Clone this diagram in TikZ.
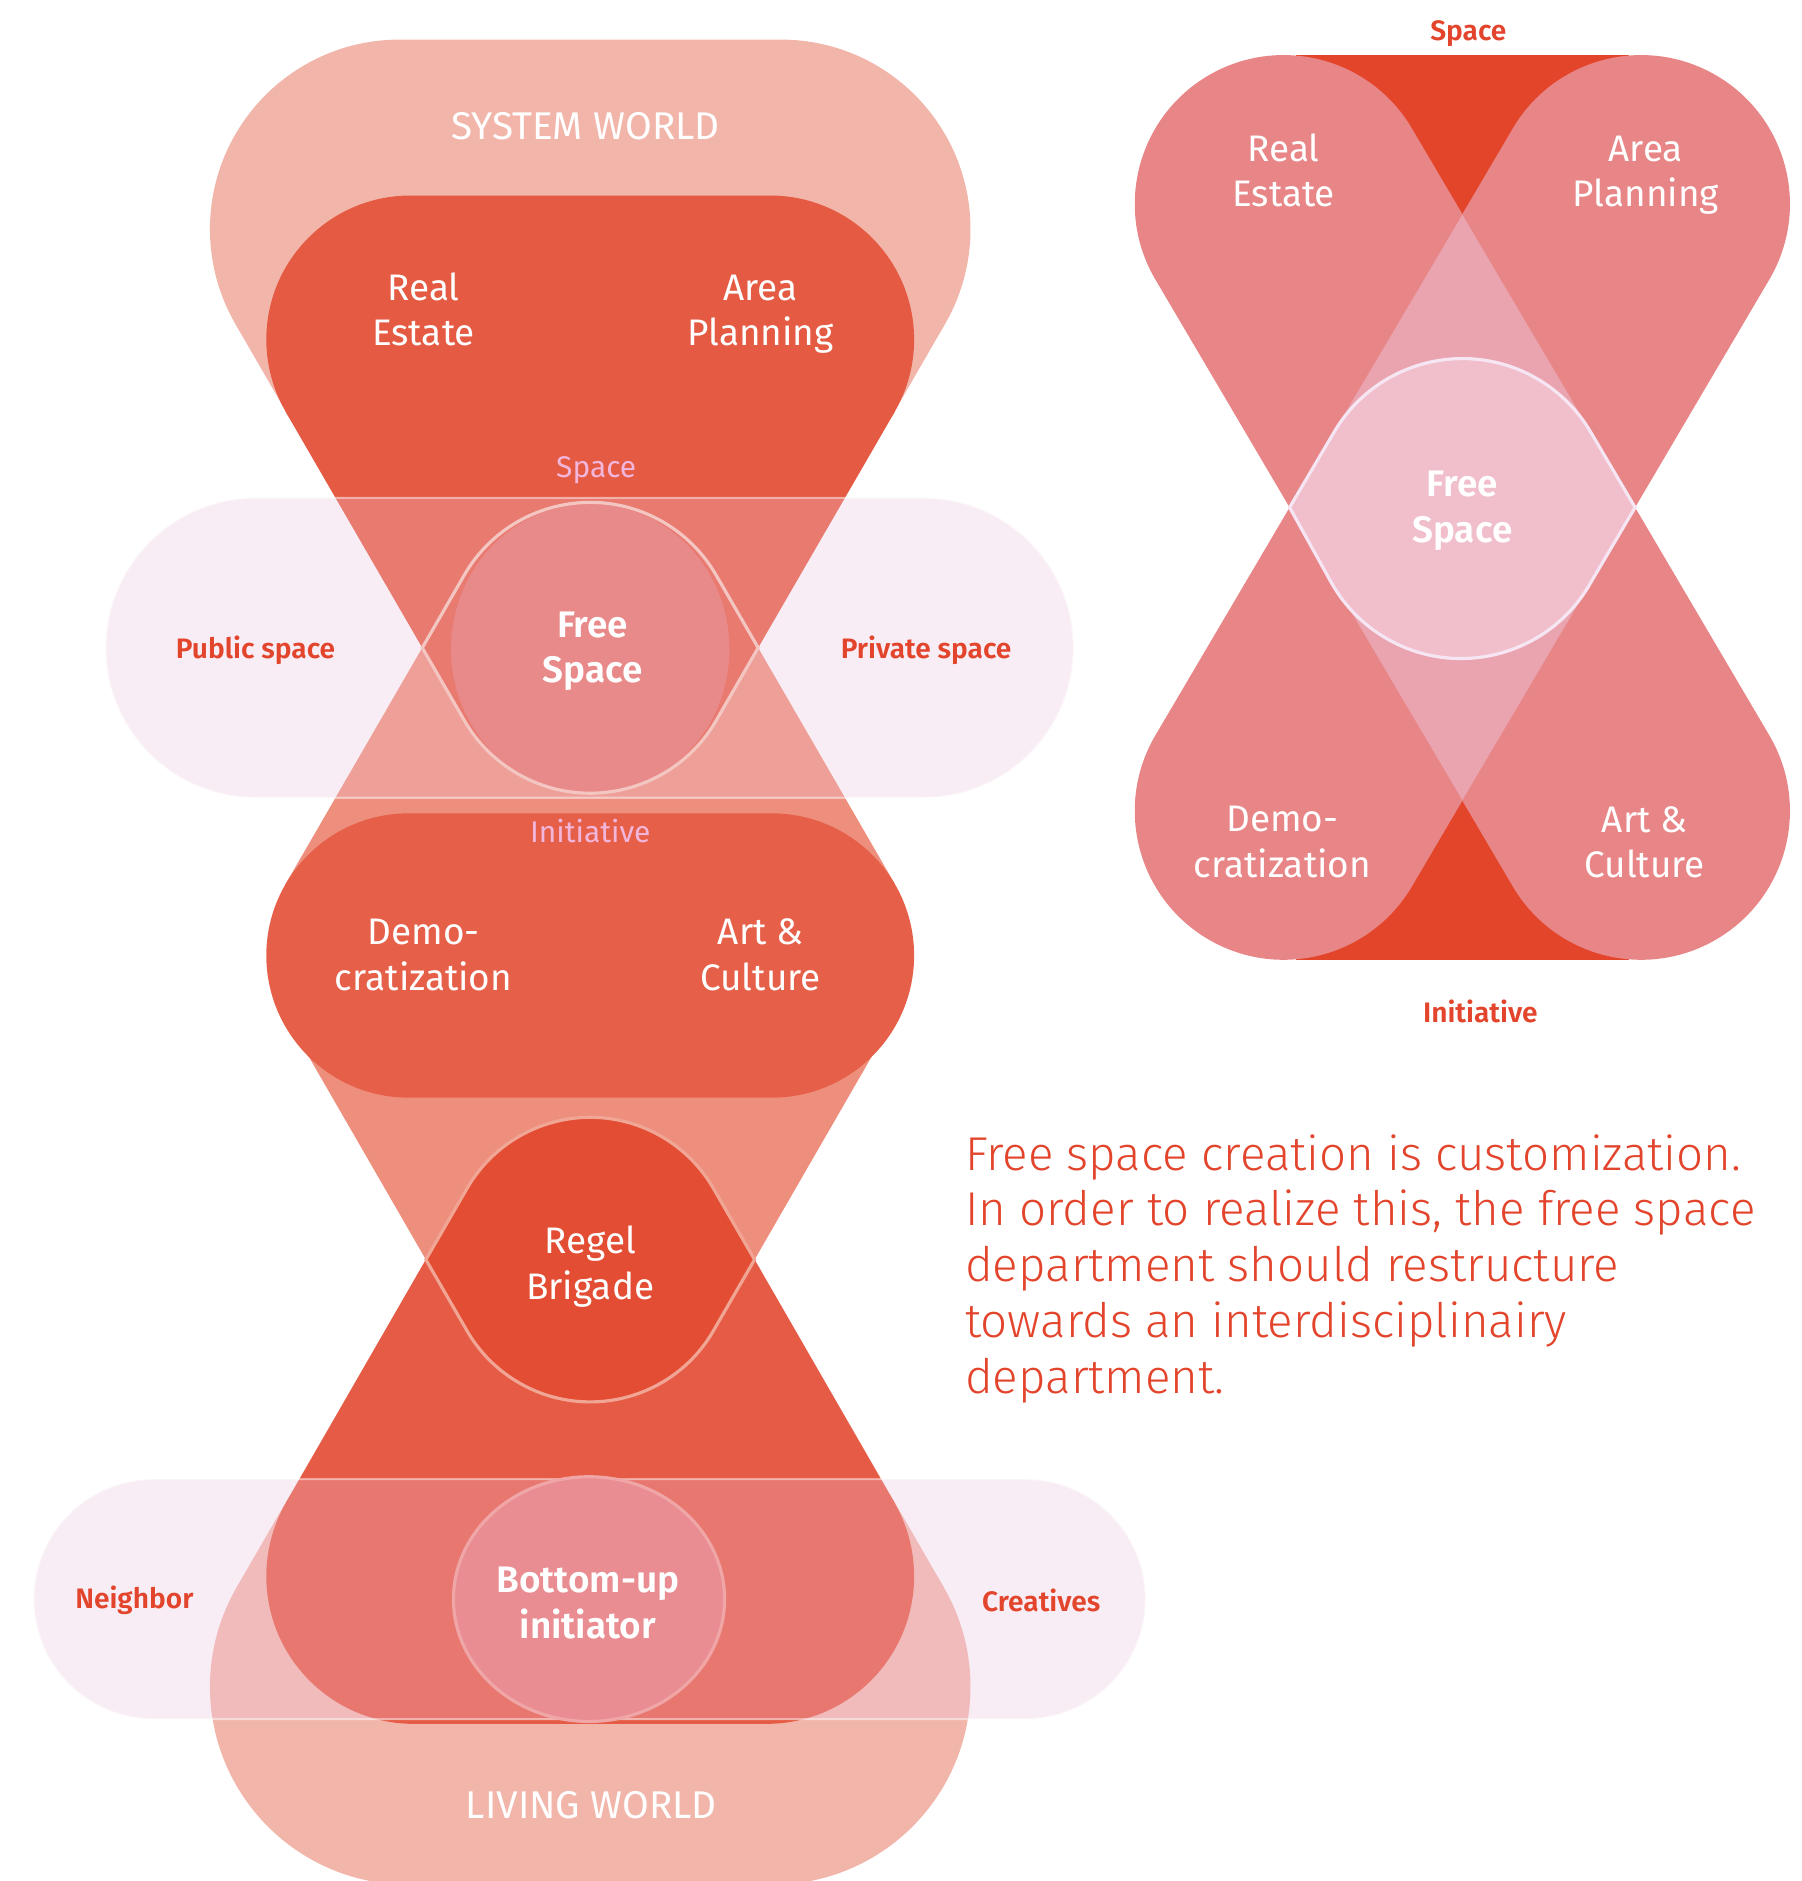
\documentclass[tikz,border=0pt]{standalone}
\usepackage{fontspec}
\setmainfont{Fira Sans}[BoldFont={Fira Sans SemiBold}]
\newfontfamily\lightfont{Fira Sans Light}
\usepackage{tikz}
\definecolor{worldsalmon}{HTML}{F2B5AA}
\definecolor{topred}{HTML}{E55A43}
\definecolor{midsalmon}{HTML}{EE8F7E}
\definecolor{pillred}{HTML}{E66049}
\definecolor{lowred}{HTML}{E65B45}
\definecolor{bandpink}{HTML}{F8EDF4}
\definecolor{bandred}{HTML}{E97A70}
\definecolor{bandsalmon}{HTML}{EE9F98}
\definecolor{bandworld}{HTML}{F0BBBA}
\definecolor{bandlow}{HTML}{E8786F}
\definecolor{freefill}{HTML}{E98A8A}
\definecolor{regelfill}{HTML}{E34D33}
\definecolor{bottomfill}{HTML}{E98D92}
\definecolor{lensline}{HTML}{F4C6C2}
\definecolor{regelrim}{HTML}{F0A595}
\definecolor{bottomrim}{HTML}{F0A6A6}
\definecolor{labelred}{HTML}{E2442C}
\definecolor{softlabel}{HTML}{F2B6DA}
\definecolor{lobepink}{HTML}{E88587}
\definecolor{wedgered}{HTML}{E3452A}
\definecolor{diamondpink}{HTML}{EAA4B0}
\definecolor{lensfill}{HTML}{F0BFCB}
\definecolor{lensrim}{HTML}{F6E6F3}

\begin{document}
\begin{tikzpicture}[x=0.012cm, y=-0.012cm,
    lbl/.style={text=white, align=center, font=\fontsize{10.5}{13}\selectfont},
    boldlbl/.style={lbl, font=\fontsize{10.5}{13}\selectfont\bfseries},
    worldlbl/.style={text=white, font=\fontsize{11}{13}\selectfont},
    softlbl/.style={text=softlabel, font=\fontsize{8.5}{10}\selectfont},
    sidelbl/.style={text=labelred, font=\fontsize{8}{10}\selectfont\bfseries},
    rim/.style={draw=#1, line width=0.9pt},
    bandedge/.style={draw=white, draw opacity=0.45, line width=0.6pt}]
    \useasboundingbox (0,0) rectangle (1502,1568);

    % System world
    \fill[worldsalmon, rounded corners=1.896cm] (175,33) rectangle (809,349);
    \fill[worldsalmon] (333,191) -- (196.2,270) -- (352,540) -- (632,540) -- (787.8,270) -- (651,191) -- cycle;

    % Living world
    \fill[worldsalmon, rounded corners=1.98cm] (175,1241) rectangle (809,1571);
    \fill[worldsalmon] (355,1050) -- (197.1,1323.5) -- (340,1406) -- (644,1406) -- (786.9,1323.5) -- (629,1050) -- cycle;

    % Initiative hourglass
    \fill[midsalmon] (352,540) -- (238,737) -- (242.5,855) -- (355,1050) -- (629,1050) -- (741.5,855) -- (746,737) -- (632,540) -- cycle;

    % Space shape
    \fill[topred, rounded corners=1.44cm] (222,163) rectangle (762,403);
    \fill[topred] (342,283) -- (238,343) -- (352,540) -- (632,540) -- (746,343) -- (642,283) -- cycle;

    % Lower shape
    \fill[lowred, rounded corners=1.476cm] (222,1191) rectangle (762,1437);
    \fill[lowred] (355,1050) -- (238.5,1252.5) -- (345,1314) -- (639,1314) -- (745.5,1252.5) -- (629,1050) -- cycle;

    % Initiative pill
    \fill[pillred, rounded corners=1.422cm] (222,678) rectangle (762,915);

    % Band public / private
    \fill[bandpink, rounded corners=1.5cm] (88,415) rectangle (895,665);
    \begin{scope}
        \clip[rounded corners=1.5cm] (88,415) rectangle (895,665);
        \fill[bandsalmon] (352,540) -- (238,737) -- (746,737) -- (632,540) -- cycle;
        \fill[bandred] (342,283) -- (238,343) -- (352,540) -- (632,540) -- (746,343) -- (642,283) -- cycle;
        \fill[bandred] (352,540) -- (387,479.4) arc[start angle=210, end angle=330, radius=121.2]
            -- (632,540) -- (597,600.6) arc[start angle=30, end angle=150, radius=121.2] -- cycle;
    \end{scope}
    \draw[bandedge, rounded corners=1.5cm] (88,415) rectangle (895,665);

    % Band neighbor / creatives
    \fill[bandpink, rounded corners=1.2cm] (28,1233) rectangle (955,1433);
    \begin{scope}
        \clip[rounded corners=1.2cm] (28,1233) rectangle (955,1433);
        \fill[bandworld, rounded corners=1.98cm] (175,1241) rectangle (809,1571);
        \fill[bandworld] (355,1050) -- (197.1,1323.5) -- (340,1406) -- (644,1406) -- (786.9,1323.5) -- (629,1050) -- cycle;
        \fill[bandlow, rounded corners=1.476cm] (222,1191) rectangle (762,1437);
        \fill[bandlow] (355,1050) -- (238.5,1252.5) -- (345,1314) -- (639,1314) -- (745.5,1252.5) -- (629,1050) -- cycle;
    \end{scope}
    \draw[bandedge, rounded corners=1.2cm] (28,1233) rectangle (955,1433);

    % Lenses
    \fill[freefill] (492,541) ellipse[x radius=116, y radius=121];
    \draw[rim=lensline] (352,540) -- (387,479.4) arc[start angle=210, end angle=330, radius=121.2]
        -- (632,540) -- (597,600.6) arc[start angle=30, end angle=150, radius=121.2] -- cycle;
    \filldraw[fill=regelfill, rim=regelrim] (355,1050) -- (389.3,990.7) arc[start angle=210, end angle=330, radius=118.6]
        -- (629,1050) -- (594.7,1109.3) arc[start angle=30, end angle=150, radius=118.6] -- cycle;
    \filldraw[fill=bottomfill, rim=bottomrim] (491,1333) ellipse[x radius=113, y radius=102];

    % Right figure
    \fill[wedgered] (1080,46) rectangle (1358,800);
    \draw[lobepink, line width=2.976cm, line cap=round] (1070,170) -- (1368,676);
    \draw[lobepink, line width=2.976cm, line cap=round] (1368,170) -- (1070,676);
    \fill[diamondpink] (1219,179) -- (1363,423) -- (1219,667) -- (1075,423) -- cycle;
    \filldraw[fill=lensfill, rim=lensrim] (1075,423) -- (1112.2,360) arc[start angle=210.5, end angle=329.5, radius=124]
        -- (1363,423) -- (1325.8,486) arc[start angle=29.5, end angle=150.5, radius=124] -- cycle;

    % Labels left
    \node[worldlbl] (systemworld) at (488,105) {SYSTEM WORLD};
    \node[lbl] (realestate) at (353,258) {Real\\Estate};
    \node[lbl] (areaplanning) at (634,262) {Area\\Planning};
    \node[softlbl] (spacetag) at (497,392) {Space};
    \node[sidelbl] (publicspace) at (213,542) {Public space};
    \node[sidelbl] (privatespace) at (772,542) {Private space};
    \node[boldlbl] (freespace) at (494,543) {Free\\Space};
    \node[softlbl] (initiativetag) at (492,693) {Initiative};
    \node[lbl] (democratization) at (353,796) {Demo-\\cratization};
    \node[lbl] (artculture) at (634,796) {Art \&\\Culture};
    \node[lbl] (regelbrigade) at (492,1056) {Regel\\Brigade};
    \node[sidelbl] (neighbor) at (112,1334) {Neighbor};
    \node[sidelbl] (creatives) at (868,1334) {Creatives};
    \node[boldlbl] (bottomup) at (490,1336) {Bottom-up\\initiator};
    \node[worldlbl] (livingworld) at (493,1505) {LIVING WORLD};

    % Labels right
    \node[sidelbl] (spacetop) at (1224,28) {Space};
    \node[lbl] (realestate2) at (1070,142) {Real\\Estate};
    \node[lbl] (areaplanning2) at (1372,146) {Area\\Planning};
    \node[boldlbl] (freespace2) at (1219,426) {Free\\Space};
    \node[lbl] (democratization2) at (1069,702) {Demo-\\cratization};
    \node[lbl] (artculture2) at (1371,702) {Art \&\\Culture};
    \node[sidelbl] (initiativebottom) at (1234,843) {Initiative};

    % Statement
    \node[anchor=north west, inner sep=0pt, align=left, text=labelred,
        font=\lightfont\fontsize{13.5}{15.9}\selectfont] (statement) at (804,945)
        {Free space creation is customization.\\In order to realize this, the free space\\department should restructure\\towards an interdisciplinairy\\department.};
\end{tikzpicture}
\end{document}
